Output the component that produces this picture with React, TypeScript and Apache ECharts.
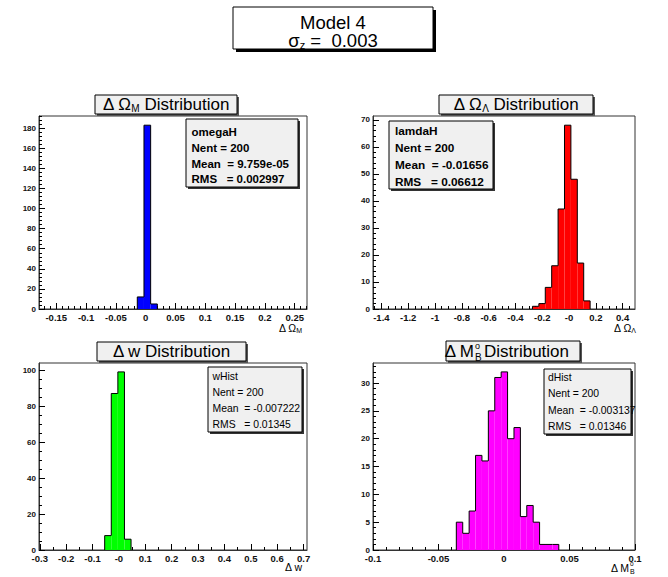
import React, { useEffect, useRef } from "react";
import * as echarts from "echarts";

const FONT = "'Liberation Sans', Helvetica, Arial, sans-serif";

// ---------- Panel 1 : Delta Omega_M ----------
const omegaCounts = [12, 183, 5];
const omegaBinStart = -0.0141;
const omegaBinWidth = 0.0112;
const omegaXRange = [-0.179, 0.2706];
const omegaYMax = 192.15;
const omegaXTicks = [-0.15, -0.1, -0.05, 0, 0.05, 0.1, 0.15, 0.2, 0.25];
const omegaXLabels = ["-0.15", "-0.1", "-0.05", "0", "0.05", "0.1", "0.15", "0.2", "0.25"];
const omegaYTicks = [0, 20, 40, 60, 80, 100, 120, 140, 160, 180];
const omegaStats = ["omegaH", "Nent = 200", "Mean  = 9.759e-05", "RMS   = 0.002997"];

// ---------- Panel 2 : Delta Omega_Lambda ----------
const lambdaCounts = [1, 2, 8, 16, 37, 68, 48, 17, 3];
const lambdaBinStart = -0.273;
const lambdaBinWidth = 0.0478;
const lambdaXRange = [-1.4626, 0.492];
const lambdaYMax = 71.4;
const lambdaXTicks = [-1.4, -1.2, -1, -0.8, -0.6, -0.4, -0.2, 0, 0.2, 0.4];
const lambdaXLabels = ["-1.4", "-1.2", "-1", "-0.8", "-0.6", "-0.4", "-0.2", "-0", "0.2", "0.4"];
const lambdaYTicks = [0, 10, 20, 30, 40, 50, 60, 70];
const lambdaStats = ["lamdaH", "Nent = 200", "Mean  = -0.01656", "RMS   = 0.06612"];

// ---------- Panel 3 : Delta w ----------
const wCounts = [8, 87, 99, 6];
const wBinStart = -0.054;
const wBinWidth = 0.025;
const wXRange = [-0.303, 0.713];
const wYMax = 103.95;
const wXTicks = [-0.3, -0.2, -0.1, 0, 0.1, 0.2, 0.3, 0.4, 0.5, 0.6, 0.7];
const wXLabels = ["-0.3", "-0.2", "-0.1", "-0", "0.1", "0.2", "0.3", "0.4", "0.5", "0.6", "0.7"];
const wYTicks = [0, 20, 40, 60, 80, 100];
const wStats = ["wHist", "Nent = 200", "Mean  = -0.007222", "RMS   = 0.01345"];

// ---------- Panel 4 : Delta M_B ----------
const mCounts = [5, 3, 7, 17, 16, 25, 31, 32, 20, 22, 6, 8, 5, 1, 1, 1];
const mBinStart = -0.0364;
const mBinWidth = 0.00489;
const mXRange = [-0.1, 0.1];
const mYMax = 33.6;
const mXTicks = [-0.1, -0.05, 0, 0.05, 0.1];
const mXLabels = ["-0.1", "-0.05", "0", "0.05", "0.1"];
const mYTicks = [0, 5, 10, 15, 20, 25, 30];
const mStats = ["dHist", "Nent = 200", "Mean  = -0.003137", "RMS   = 0.01346"];

function minorTicks(major: number[], n: number, min: number, max: number) {
  const step = (major[1] - major[0]) / n;
  const first = major[0] - step * Math.floor((major[0] - min) / step + 1e-9);
  const out: number[] = [];
  for (let k = 0; ; k++) {
    const v = first + k * step;
    if (v > max + 1e-12) break;
    if (v < min - 1e-12) continue;
    if (major.some((m) => Math.abs(m - v) < step * 1e-3)) continue;
    out.push(v);
  }
  return out;
}

function binsOf(counts: number[], start: number, width: number) {
  return counts.map((c, k) => [
    start + k * width,
    start + (k + 1) * width,
    c,
    k === 0 ? 0 : counts[k - 1],
    k === counts.length - 1 ? 1 : 0,
  ]);
}

const panels = [
  {
    grid: { left: 39, top: 116, width: 268, height: 193 },
    color: "#0000ff",
    bins: binsOf(omegaCounts, omegaBinStart, omegaBinWidth),
    xRange: omegaXRange, yMax: omegaYMax,
    xTicks: omegaXTicks, xLabels: omegaXLabels, yTicks: omegaYTicks,
    xMinorN: 5, yMinorN: 5,
  },
  {
    grid: { left: 373, top: 116, width: 262, height: 193 },
    color: "#ff0000",
    bins: binsOf(lambdaCounts, lambdaBinStart, lambdaBinWidth),
    xRange: lambdaXRange, yMax: lambdaYMax,
    xTicks: lambdaXTicks, xLabels: lambdaXLabels, yTicks: lambdaYTicks,
    xMinorN: 4, yMinorN: 5,
  },
  {
    grid: { left: 39, top: 363, width: 268, height: 187 },
    color: "#00ff00",
    bins: binsOf(wCounts, wBinStart, wBinWidth),
    xRange: wXRange, yMax: wYMax,
    xTicks: wXTicks, xLabels: wXLabels, yTicks: wYTicks,
    xMinorN: 2, yMinorN: 4,
  },
  {
    grid: { left: 373, top: 363, width: 262, height: 187 },
    color: "#ff00ff",
    bins: binsOf(mCounts, mBinStart, mBinWidth),
    xRange: mXRange, yMax: mYMax,
    xTicks: mXTicks, xLabels: mXLabels, yTicks: mYTicks,
    xMinorN: 5, yMinorN: 5,
  },
];

function labelFor(ticks: number[], labels: string[]) {
  return (v: number) => {
    let best = 0;
    for (let i = 1; i < ticks.length; i++) {
      if (Math.abs(ticks[i] - v) < Math.abs(ticks[best] - v)) best = i;
    }
    return labels[best];
  };
}

function box(x: number, y: number, w: number, h: number, fill: string, shadow: string, off: number) {
  return [
    { type: "rect", shape: { x: x + off, y: y + off, width: w, height: h }, style: { fill: shadow }, z: 100 },
    { type: "rect", shape: { x, y, width: w, height: h }, style: { fill, stroke: "#000", lineWidth: 1 }, z: 101 },
  ];
}

const TITLE_SIZE = 17;
const titleRich = {
  n: { fontSize: TITLE_SIZE, fontFamily: FONT, lineHeight: 18, verticalAlign: "middle", fill: "#000" },
  s: { fontSize: 10, fontFamily: FONT, lineHeight: 8, verticalAlign: "bottom", fill: "#000" },
};
const axisRich = {
  n: { fontSize: 10.5, fontFamily: FONT, lineHeight: 12, verticalAlign: "middle", fill: "#000" },
  s: { fontSize: 7, fontFamily: FONT, lineHeight: 6, verticalAlign: "bottom", fill: "#000" },
};

function txt(text: string, x: number, y: number, extra: any) {
  return {
    type: "text",
    z: 102,
    style: { text, x, y, fill: "#000", fontFamily: FONT, ...extra },
  };
}

function statsText(lines: string[], x: number, y: number, size: number, weight: string, lh: number) {
  return txt(lines.join("\n"), x, y, {
    fontSize: size, fontWeight: weight, lineHeight: lh, align: "left", verticalAlign: "top",
  });
}

export default function App() {
  const ref = useRef<HTMLDivElement>(null);
  useEffect(() => {
    document.body.style.margin = "0";
    if (!ref.current) return;
    const chart = echarts.init(ref.current, null, { renderer: "svg" });

    const grids: any[] = [];
    const xAxes: any[] = [];
    const yAxes: any[] = [];
    const series: any[] = [];

    panels.forEach((p, i) => {
      grids.push({
        ...p.grid, show: true, borderColor: "#333", borderWidth: 1,
        backgroundColor: "transparent", containLabel: false, outerBoundsMode: "none",
      });
      const fmt = labelFor(p.xTicks, p.xLabels);
      xAxes.push({
        type: "value", gridIndex: i, min: p.xRange[0], max: p.xRange[1], position: "bottom",
        axisLine: { show: true, onZero: false, lineStyle: { color: "#333", width: 1 } },
        axisTick: { show: true, inside: true, length: 6, customValues: p.xTicks, lineStyle: { color: "#000" } },
        axisLabel: {
          show: true, customValues: p.xTicks, formatter: (v: number) => fmt(v),
          fontSize: 9.5, fontWeight: "bold", fontFamily: FONT, color: "#111", margin: 3,
          showMinLabel: true, showMaxLabel: true, hideOverlap: false,
        },
        splitLine: { show: false },
      });
      xAxes.push({
        type: "value", gridIndex: i, min: p.xRange[0], max: p.xRange[1], position: "bottom",
        axisLine: { show: false, onZero: false },
        axisTick: {
          show: true, inside: true, length: 3,
          customValues: minorTicks(p.xTicks, p.xMinorN, p.xRange[0], p.xRange[1]),
          lineStyle: { color: "#000" },
        },
        axisLabel: { show: false },
        splitLine: { show: false },
      });
      yAxes.push({
        type: "value", gridIndex: i, min: 0, max: p.yMax, position: "left",
        axisLine: { show: true, onZero: false, lineStyle: { color: "#333", width: 1 } },
        axisTick: { show: true, inside: true, length: 6, customValues: p.yTicks, lineStyle: { color: "#000" } },
        axisLabel: {
          show: true, customValues: p.yTicks, formatter: (v: number) => String(Math.round(v)),
          fontSize: 8, fontWeight: "bold", fontFamily: FONT, color: "#111", margin: 3,
          showMinLabel: true, showMaxLabel: true,
        },
        splitLine: { show: false },
      });
      yAxes.push({
        type: "value", gridIndex: i, min: 0, max: p.yMax, position: "left",
        axisLine: { show: false, onZero: false },
        axisTick: {
          show: true, inside: true, length: 3,
          customValues: minorTicks(p.yTicks, p.yMinorN, 0, p.yMax),
          lineStyle: { color: "#000" },
        },
        axisLabel: { show: false },
        splitLine: { show: false },
      });
      const color = p.color;
      series.push({
        type: "custom",
        xAxisIndex: 2 * i,
        yAxisIndex: 2 * i,
        data: p.bins,
        encode: { x: [0, 1], y: 2 },
        clip: true,
        z: 2,
        renderItem: (params: any, api: any) => {
          const x0 = api.value(0);
          const x1 = api.value(1);
          const c = api.value(2);
          const prev = api.value(3);
          const last = api.value(4);
          const tl = api.coord([x0, c]);
          const br = api.coord([x1, 0]);
          const pp = api.coord([x0, prev]);
          const pts = [[tl[0], pp[1]], [tl[0], tl[1]], [br[0], tl[1]]];
          if (last) pts.push([br[0], br[1]]);
          return {
            type: "group",
            children: [
              {
                type: "rect",
                shape: { x: tl[0], y: tl[1], width: br[0] - tl[0], height: br[1] - tl[1] },
                style: { fill: color },
              },
              {
                type: "polyline",
                shape: { points: pts },
                style: { stroke: "#000", lineWidth: 1, fill: null },
              },
            ],
          };
        },
      });
    });

    const graphic: any[] = [
      // main title
      ...box(233, 7, 200, 42, "#ffffff", "#000000", 3),
      txt("Model 4", 333, 22.5, { fontSize: 18.5, align: "center", verticalAlign: "middle" }),
      txt("{n|\u03c3}{s|z}{n| =  0.003}", 333, 40.5, {
        align: "center", verticalAlign: "middle",
        rich: {
          n: { fontSize: 18.5, fontFamily: FONT, lineHeight: 20, verticalAlign: "middle", fill: "#000" },
          s: { fontSize: 11, fontFamily: FONT, lineHeight: 9, verticalAlign: "bottom", fill: "#000" },
        },
      }),

      // panel titles
      ...box(95, 95, 142, 19, "#f0f0f0", "#555", 2),
      txt("{n|\u0394 \u03a9}{s|M}{n| Distribution}", 166, 104.5, { align: "center", verticalAlign: "middle", rich: titleRich }),
      ...box(439, 95, 154, 19, "#f0f0f0", "#555", 2),
      txt("{n|\u0394 \u03a9}{s|\u039b}{n| Distribution}", 516, 104.5, { align: "center", verticalAlign: "middle", rich: titleRich }),
      ...box(97, 342, 149, 19, "#f0f0f0", "#555", 2),
      txt("{n|\u0394 w Distribution}", 171.5, 351.5, { align: "center", verticalAlign: "middle", rich: titleRich }),
      ...box(446, 341, 134, 20, "#f0f0f0", "#555", 2),
      txt("\u0394 M", 474, 351.5, { fontSize: TITLE_SIZE, align: "right", verticalAlign: "middle" }),
      txt("o", 475, 345.5, { fontSize: 9, align: "left", verticalAlign: "middle" }),
      txt("B", 475, 357, { fontSize: 10, align: "left", verticalAlign: "middle" }),
      txt("Distribution", 484, 351.5, { fontSize: TITLE_SIZE, align: "left", verticalAlign: "middle" }),

      // stats boxes
      ...box(186, 119, 112, 68, "#f0f0f0", "#333", 2),
      statsText(omegaStats, 191.5, 124.5, 11.5, "bold", 15.7),
      ...box(389, 121, 104, 68, "#f0f0f0", "#333", 2),
      statsText(lambdaStats, 395, 123, 11.8, "bold", 16.8),
      ...box(208, 367, 94, 65, "#f0f0f0", "#333", 2),
      statsText(wStats, 212.5, 368.5, 10.4, "normal", 16),
      ...box(544, 369, 87, 65, "#f0f0f0", "#333", 2),
      statsText(mStats, 548, 369.5, 10.4, "normal", 16.3),

      // axis titles
      txt("{n|\u0394 \u03a9}{s|M}", 302, 328, { align: "right", verticalAlign: "middle", rich: axisRich }),
      txt("{n|\u0394 \u03a9}{s|\u039b}", 636, 328, { align: "right", verticalAlign: "middle", rich: axisRich }),
      txt("\u0394 w", 302, 567, { fontSize: 10.5, align: "right", verticalAlign: "middle" }),
      txt("\u0394 M", 629, 568, { fontSize: 10.5, align: "right", verticalAlign: "middle" }),
      txt("o", 630, 563.5, { fontSize: 6.5, align: "left", verticalAlign: "middle" }),
      txt("B", 630, 571, { fontSize: 7, align: "left", verticalAlign: "middle" }),
    ];

    chart.setOption({
      animation: false,
      backgroundColor: "#ffffff",
      grid: grids,
      xAxis: xAxes,
      yAxis: yAxes,
      series,
      graphic,
    });
    return () => chart.dispose();
  }, []);
  return <div ref={ref} style={{ width: 668, height: 577 }} />;
}
